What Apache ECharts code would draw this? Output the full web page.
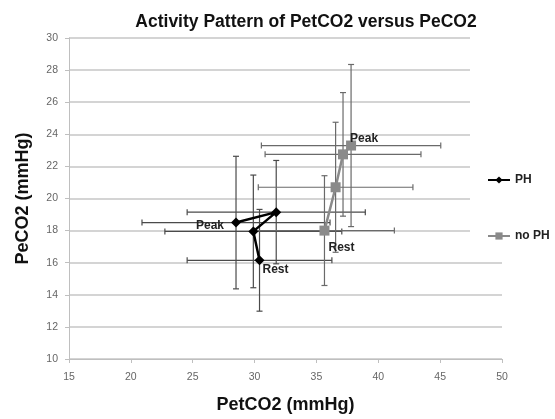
<!DOCTYPE html>
<html>
<head>
    <meta charset="utf-8"/>
    <title>Activity Pattern of PetCO2 versus PeCO2</title>
    <script src="https://cdn.jsdelivr.net/npm/echarts@6/dist/echarts.min.js"></script>
    <style>
        html, body { margin: 0; padding: 0; background: #fff; }
        #myChart { width: 555px; height: 419px; }
    </style>
</head>
<body>
<div id="myChart"></div>
<script>
    // PH 组 (Rest -> ... -> Peak)
    var phPetCO2 = [30.4, 29.9, 31.75, 28.5];
    var phPeCO2 = [16.15, 17.95, 19.15, 18.5];
    var phPetErr = [5.85, 7.15, 7.2, 7.6];
    var phPeErr = [3.17, 3.51, 3.22, 4.13];
    var phLabels = ['Rest', '', '', 'Peak'];

    // no PH 组
    var noPetCO2 = [35.65, 36.55, 37.15, 37.8];
    var noPeCO2 = [18.0, 20.7, 22.75, 23.3];
    var noPetErr = [5.65, 6.25, 6.3, 7.25];
    var noPeErr = [3.42, 4.05, 3.85, 5.05];
    var noLabels = ['Rest', '', '', 'Peak'];

    // 刻度
    var xTicks = [15, 20, 25, 30, 35, 40, 45, 50];
    var yTicks = [10, 12, 14, 16, 18, 20, 22, 24, 26, 28, 30];

    var font = 'Liberation Sans, Arial, sans-serif';

    // 标签位置
    var labelPos = {
        'PH-Peak': {position: 'left', distance: 0, offset: [-7, 3]},
        'PH-Rest': {position: 'right', distance: 0, offset: [-2, 9]},
        'no PH-Peak': {position: 'right', distance: 0, offset: [-6, -7]},
        'no PH-Rest': {position: 'right', distance: 0, offset: [-1, 17]}
    };

    var linePoints = function (name, xs, ys, labels) {
        var out = [];
        for (var i = 0; i < xs.length; i++) {
            var item = {value: [xs[i], ys[i]]};
            if (labels[i]) {
                var p = labelPos[name + '-' + labels[i]];
                item.label = {
                    show: true,
                    formatter: labels[i],
                    position: p.position,
                    distance: p.distance,
                    offset: p.offset,
                    color: '#222',
                    fontWeight: 'bold',
                    fontSize: 12,
                    fontFamily: font
                };
            }
            out.push(item);
        }
        return out;
    };

    var errPoints = function (xs, ys, ex, ey) {
        var out = [];
        for (var i = 0; i < xs.length; i++) {
            out.push([xs[i], ys[i], ex[i], ey[i]]);
        }
        return out;
    };

    // 误差线
    var errorBars = function (color) {
        return function (params, api) {
            var x = api.value(0), y = api.value(1), ex = api.value(2), ey = api.value(3);
            var l = api.coord([x - ex, y]), r = api.coord([x + ex, y]);
            var t = api.coord([x, y + ey]), b = api.coord([x, y - ey]);
            var c = 3;
            var st = {stroke: color, lineWidth: 1.2};
            var seg = function (x1, y1, x2, y2) {
                return {type: 'line', shape: {x1: x1, y1: y1, x2: x2, y2: y2}, style: st};
            };
            return {
                type: 'group',
                children: [
                    seg(l[0], l[1], r[0], r[1]),
                    seg(l[0], l[1] - c, l[0], l[1] + c),
                    seg(r[0], r[1] - c, r[0], r[1] + c),
                    seg(t[0], t[1], b[0], b[1]),
                    seg(t[0] - c, t[1], t[0] + c, t[1]),
                    seg(b[0] - c, b[1], b[0] + c, b[1])
                ]
            };
        };
    };

    var myChart = echarts.init(document.getElementById('myChart'));
    var option = {
        animation: false,
        backgroundColor: '#fff',
        title: {
            text: 'Activity Pattern of PetCO2 versus PeCO2',
            left: 301,
            textAlign: 'center',
            top: 8,
            textStyle: {fontSize: 17.5, fontWeight: 'bold', color: '#111', fontFamily: font}
        },
        legend: {
            data: ['PH', 'no PH'],
            orient: 'vertical',
            left: 470,
            top: 35,
            padding: [139, 5, 13, 17],
            itemGap: 44,
            itemWidth: 22,
            itemHeight: 9,
            backgroundColor: '#fff',
            textStyle: {fontSize: 12, fontWeight: 'bold', color: '#222', fontFamily: font}
        },
        grid: {left: 69, right: 53, top: 38, bottom: 60},
        xAxis: {
            type: 'value',
            min: xTicks[0],
            max: xTicks[xTicks.length - 1],
            interval: xTicks[1] - xTicks[0],
            name: 'PetCO2 (mmHg)',
            nameLocation: 'middle',
            nameGap: 37,
            nameTextStyle: {fontSize: 18, fontWeight: 'bold', color: '#111', fontFamily: font},
            axisLine: {lineStyle: {color: '#bfbfbf', width: 1}},
            axisTick: {show: true, length: 4, lineStyle: {color: '#bfbfbf'}},
            axisLabel: {fontSize: 10.5, color: '#666', margin: 13, fontFamily: font},
            splitLine: {show: false}
        },
        yAxis: {
            type: 'value',
            min: yTicks[0],
            max: yTicks[yTicks.length - 1],
            interval: yTicks[1] - yTicks[0],
            name: 'PeCO2 (mmHg)',
            nameLocation: 'middle',
            nameGap: 37,
            nameTextStyle: {fontSize: 18, fontWeight: 'bold', color: '#111', fontFamily: font},
            axisLine: {show: true, lineStyle: {color: '#bfbfbf', width: 1}},
            axisTick: {show: true, length: 4, lineStyle: {color: '#bfbfbf'}},
            axisLabel: {fontSize: 10.5, color: '#666', margin: 11, fontFamily: font},
            splitLine: {show: true, lineStyle: {color: '#c6c6c6', width: 1.5}}
        },
        series: [
            {
                name: 'PH err',
                type: 'custom',
                renderItem: errorBars('#4a4a4a'),
                encode: {x: 0, y: 1},
                data: errPoints(phPetCO2, phPeCO2, phPetErr, phPeErr),
                z: 1
            },
            {
                name: 'no PH err',
                type: 'custom',
                renderItem: errorBars('#6a6a6a'),
                encode: {x: 0, y: 1},
                data: errPoints(noPetCO2, noPeCO2, noPetErr, noPeErr),
                z: 1
            },
            {
                name: 'PH',
                type: 'line',
                symbol: 'diamond',
                symbolSize: 10,
                itemStyle: {color: '#000'},
                lineStyle: {color: '#000', width: 2.5},
                data: linePoints('PH', phPetCO2, phPeCO2, phLabels),
                z: 3
            },
            {
                name: 'no PH',
                type: 'line',
                symbol: 'rect',
                symbolSize: 10,
                itemStyle: {color: '#8a8a8a'},
                lineStyle: {color: '#8a8a8a', width: 2.5},
                data: linePoints('no PH', noPetCO2, noPeCO2, noLabels),
                z: 2
            }
        ]
    };
    myChart.setOption(option);
</script>
</body>
</html>
